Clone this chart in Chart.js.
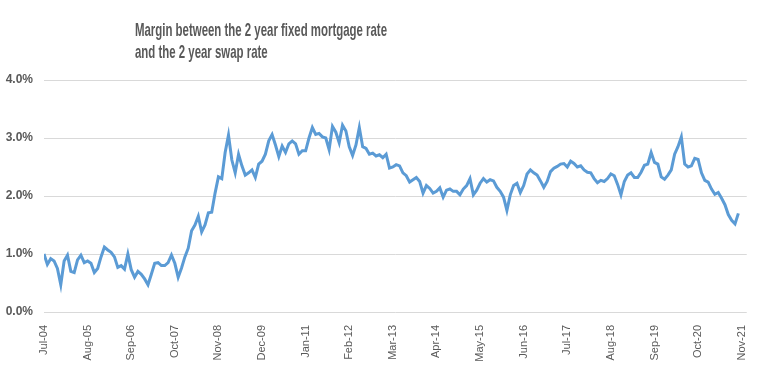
<!DOCTYPE html>
<html>
<head>
<meta charset="utf-8">
<script src="https://cdn.jsdelivr.net/npm/chart.js@4/dist/chart.umd.min.js"></script>
<style>
  html, body { margin: 0; padding: 0; background: #fff; }
  canvas { display: block; }
</style>
</head>
<body>
<canvas id="area" width="760" height="375"></canvas>
<script>
// monthly margin (%), first value = Jul-04, last = Oct-21
var margin = [
  1.00, 0.82, 0.92, 0.88, 0.75, 0.47, 0.88, 0.98, 0.70, 0.68, 0.90, 0.98,
  0.85, 0.88, 0.84, 0.68, 0.75, 0.95, 1.12, 1.07, 1.03, 0.95, 0.77, 0.80,
  0.74, 1.00, 0.73, 0.60, 0.70, 0.65, 0.57, 0.47, 0.65, 0.84, 0.85, 0.80,
  0.80, 0.85, 0.98, 0.84, 0.60, 0.76, 0.95, 1.10, 1.40, 1.50, 1.65, 1.38,
  1.50, 1.71, 1.72, 2.05, 2.33, 2.30, 2.75, 3.05, 2.62, 2.40, 2.72, 2.52,
  2.36, 2.40, 2.45, 2.32, 2.55, 2.60, 2.72, 2.95, 3.06, 2.88, 2.68, 2.86,
  2.75, 2.90, 2.95, 2.90, 2.72, 2.78, 2.78, 3.00, 3.18, 3.06, 3.08, 3.02,
  3.00, 2.80, 3.20, 3.10, 2.92, 3.22, 3.12, 2.85, 2.70, 2.88, 3.18, 2.85,
  2.82, 2.72, 2.74, 2.69, 2.71, 2.66, 2.72, 2.48, 2.50, 2.54, 2.52, 2.40,
  2.35, 2.24, 2.28, 2.32, 2.25, 2.05, 2.18, 2.13, 2.05, 2.08, 2.14, 1.98,
  2.10, 2.12, 2.08, 2.08, 2.02, 2.12, 2.18, 2.30, 2.02, 2.10, 2.22, 2.30,
  2.24, 2.28, 2.26, 2.15, 2.08, 1.98, 1.75, 2.02, 2.18, 2.22, 2.06, 2.18,
  2.38, 2.45, 2.40, 2.36, 2.26, 2.15, 2.25, 2.42, 2.48, 2.51, 2.55, 2.56,
  2.50, 2.60, 2.56, 2.50, 2.52, 2.45, 2.41, 2.40, 2.30, 2.23, 2.27, 2.25,
  2.30, 2.38, 2.35, 2.20, 2.02, 2.25, 2.36, 2.40, 2.32, 2.32, 2.41, 2.53,
  2.55, 2.75, 2.58, 2.55, 2.33, 2.29, 2.36, 2.45, 2.72, 2.85, 3.02, 2.55,
  2.50, 2.52, 2.65, 2.63, 2.40, 2.27, 2.24, 2.12, 2.03, 2.06, 1.96, 1.85,
  1.68, 1.58, 1.52, 1.70
];

var tickLabels = ['Jul-04', 'Aug-05', 'Sep-06', 'Oct-07', 'Nov-08', 'Dec-09', 'Jan-11',
  'Feb-12', 'Mar-13', 'Apr-14', 'May-15', 'Jun-16', 'Jul-17', 'Aug-18', 'Sep-19',
  'Oct-20', 'Nov-21'];
var tickEvery = 13; // months between labels

var yTicks = [0, 1, 2, 3, 4];

var titleLines = ['Margin between the 2 year fixed mortgage rate', 'and the 2 year swap rate'];

var points = margin.map((v, i) => ({x: i, y: v}));

// title sits left of centre in the original, so draw it by hand
var titlePlugin = {
  id: 'leftTitle',
  afterDraw(chart) {
    var c = chart.ctx;
    c.save();
    c.fillStyle = '#595959';
    c.font = 'bold 19px "Liberation Sans Narrow", "Liberation Sans", sans-serif';
    c.textBaseline = 'alphabetic';
    c.textAlign = 'left';
    var w1 = c.measureText(titleLines[0]).width;
    var s = 252 / w1;
    titleLines.forEach((t, i) => {
      c.save();
      c.translate(135, 36 + i * 22);
      c.scale(s, 1);
      c.fillText(t, 0, 0);
      c.restore();
    });
    c.restore();
  }
};

new Chart(document.getElementById('area'), {
  type: 'line',
  data: {
    datasets: [{
      label: 'Margin',
      data: points,
      borderColor: '#5B9BD5',
      borderWidth: 3,
      pointRadius: 0,
      tension: 0,
      fill: false
    }]
  },
  options: {
    responsive: false,
    animation: false,
    layout: { padding: { top: 80, right: 12, left: 0, bottom: 0 } },
    plugins: {
      legend: { display: false },
      title: { display: false },
      tooltip: { enabled: false }
    },
    scales: {
      x: {
        type: 'linear',
        min: 0,
        max: 209.5,
        afterBuildTicks: axis => {
          axis.ticks = tickLabels.map((l, i) => ({value: i * tickEvery}));
        },
        afterFit: axis => { axis.height = 63; },
        grid: { display: false },
        border: { display: false },
        ticks: {
          autoSkip: false,
          maxRotation: 90,
          minRotation: 90,
          padding: 5,
          color: '#595959',
          font: { family: '"Liberation Sans", Arial, sans-serif', size: 11 },
          callback: v => tickLabels[Math.round(v / tickEvery)]
        }
      },
      y: {
        min: 0,
        max: 4,
        afterBuildTicks: axis => {
          axis.ticks = yTicks.map(v => ({value: v}));
        },
        afterFit: axis => { axis.width = 44; },
        grid: { color: '#D9D9D9', lineWidth: 1, drawTicks: false },
        border: { display: false },
        ticks: {
          padding: 11,
          color: '#595959',
          font: { family: '"Liberation Sans", Arial, sans-serif', size: 12, weight: 'bold' },
          callback: v => v.toFixed(1) + '%'
        }
      }
    }
  },
  plugins: [titlePlugin]
});
</script>
</body>
</html>
